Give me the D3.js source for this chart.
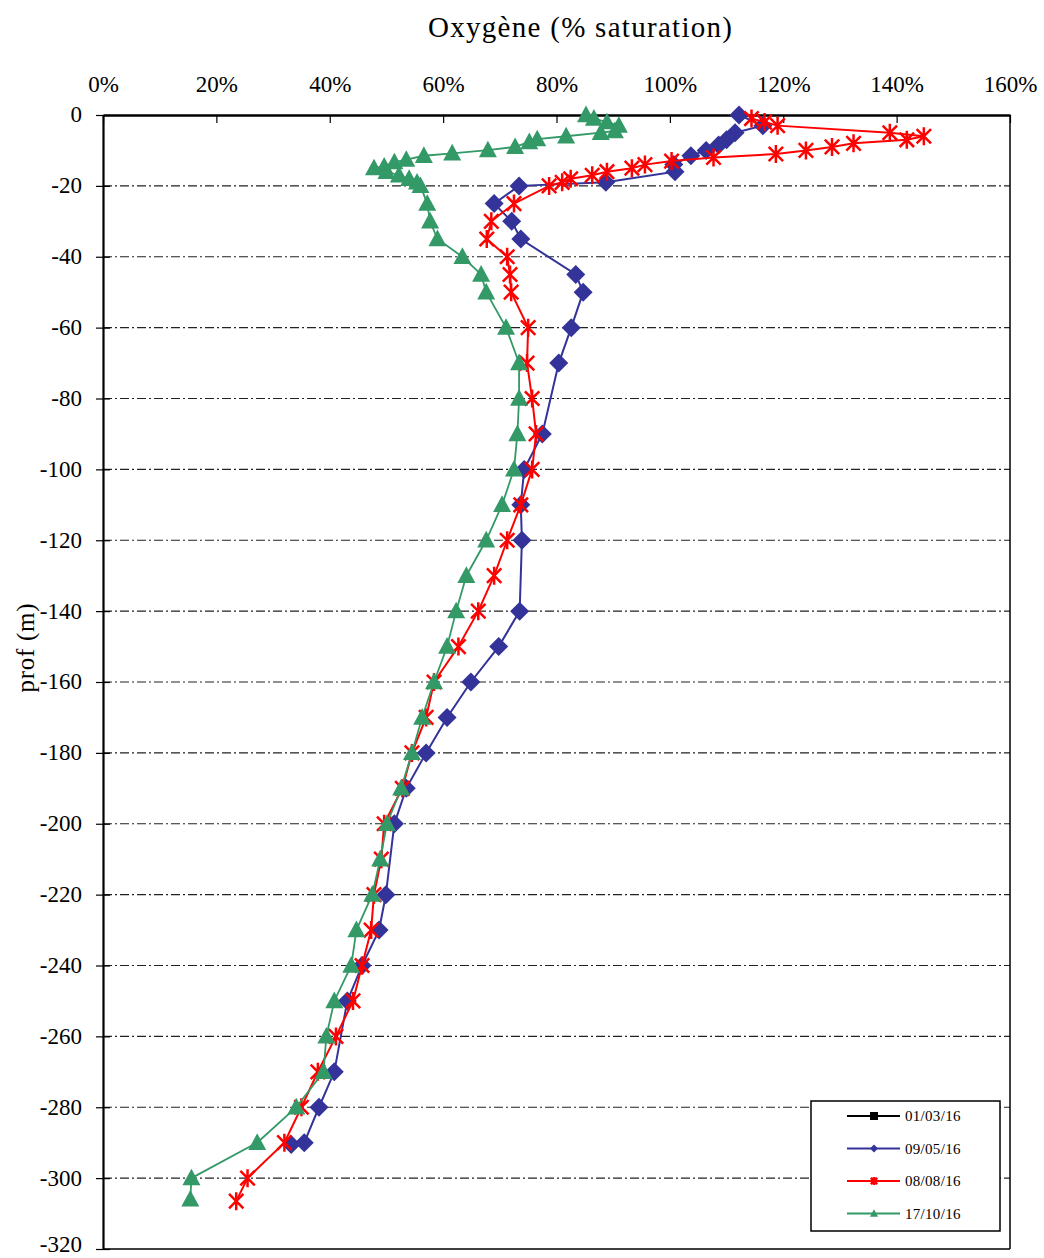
<!DOCTYPE html>
<html>
<head>
<meta charset="utf-8">
<script src="https://cdn.jsdelivr.net/npm/d3@7"></script>
<style>
  body { margin: 0; background: #fff; }
  svg text { font-family: "Liberation Serif", "Times New Roman", serif; fill: #000; }
</style>
</head>
<body>
<div id="chart"></div>
<script>
// series: [saturation %, depth m]
const serie0103 = [];
const serie0905 = [
  [112.2, 0], [116.4, -3], [111.5, -5], [110.0, -7], [108.6, -8.5], [106.4, -10],
  [103.7, -11.5], [100.7, -14], [100.9, -16], [88.7, -19], [73.4, -20], [69.0, -25],
  [72.1, -30], [73.7, -35], [83.4, -45], [84.7, -50], [82.6, -60], [80.4, -70],
  [77.5, -90], [74.3, -100], [73.7, -110], [73.9, -120], [73.5, -140], [69.8, -150],
  [64.9, -160], [60.7, -170], [57.0, -180], [53.5, -190], [51.4, -200], [49.9, -220],
  [48.7, -230], [45.7, -240], [43.1, -250], [40.8, -270], [38.1, -280], [35.5, -290],
  [33.2, -290.5]
];
const serie0808 = [
  [114.4, -1], [116.7, -2], [119.0, -3], [138.8, -5], [144.8, -6], [141.8, -7],
  [132.4, -8], [128.6, -9], [124.0, -10], [118.7, -11], [107.7, -12], [100.3, -13],
  [95.6, -14], [93.3, -15], [88.9, -16], [86.3, -17], [82.5, -18], [81.0, -19],
  [78.7, -20], [72.5, -25], [68.5, -30], [67.7, -35], [71.3, -40], [71.8, -45],
  [72.0, -50], [75.0, -60], [74.8, -70], [75.7, -80], [76.4, -90], [75.7, -100],
  [73.7, -110], [71.3, -120], [69.0, -130], [66.2, -140], [62.7, -150], [58.4, -160],
  [57.0, -170], [54.5, -180], [52.8, -190], [49.6, -200], [49.1, -210], [47.8, -220],
  [47.3, -230], [45.7, -240], [44.1, -250], [41.1, -260], [37.9, -270], [35.0, -280],
  [32.0, -290], [25.5, -300], [23.5, -306.5]
];
const serie1710 = [
  [85.2, 0], [86.6, -1], [88.9, -2], [91.0, -3], [90.3, -4.5], [87.8, -5],
  [81.7, -6], [76.6, -6.8], [75.2, -7.6], [72.7, -9], [67.9, -9.9], [61.6, -10.8],
  [56.6, -11.5], [53.5, -12.6], [51.4, -13.3], [49.6, -14.5], [47.8, -15],
  [50.0, -16], [52.2, -17], [54.0, -18], [55.4, -19], [56.0, -20], [57.2, -25],
  [57.7, -30], [59.0, -35], [63.4, -40], [66.7, -45], [67.6, -50], [71.1, -60],
  [73.4, -70], [73.4, -80], [73.1, -90], [72.5, -100], [70.4, -110], [67.6, -120],
  [64.1, -130], [62.3, -140], [60.7, -150], [58.4, -160], [56.3, -170], [54.5, -180],
  [52.6, -190], [50.1, -200], [48.9, -210], [47.5, -220], [44.7, -230], [43.8, -240],
  [40.8, -250], [39.4, -260], [38.9, -270], [34.1, -280], [27.2, -290], [15.6, -300],
  [15.4, -306]
];
const seriesNames = ["01/03/16", "09/05/16", "08/08/16", "17/10/16"];
const xTicks = [0, 0.2, 0.4, 0.6, 0.8, 1.0, 1.2, 1.4, 1.6];
const yTicks = d3.range(0, -321, -20);

const series = [
  { name: seriesNames[0], data: serie0103, color: "#000000", marker: "square", width: 2.5 },
  { name: seriesNames[1], data: serie0905, color: "#333399", marker: "diamond", width: 2 },
  { name: seriesNames[2], data: serie0808, color: "#ff0000", marker: "star", width: 2 },
  { name: seriesNames[3], data: serie1710, color: "#339966", marker: "triangle", width: 1.8 }
];

const WIDTH = 1044, HEIGHT = 1258;
const margin = { top: 115, left: 103, right: 34, bottom: 9 };

const svg = d3.select("#chart").append("svg")
  .attr("width", WIDTH).attr("height", HEIGHT);

const xScale = d3.scaleLinear().domain([0, 1.6]).range([margin.left, WIDTH - margin.right]);
const yScale = d3.scaleLinear().domain([0, -320]).range([margin.top, HEIGHT - margin.bottom]);

// dash-dot grid
svg.append("g")
  .selectAll("line")
  .data(yTicks.slice(1, -1))
  .join("line")
  .attr("x1", xScale(0)).attr("x2", xScale(1.6))
  .attr("y1", d => yScale(d)).attr("y2", d => yScale(d))
  .attr("stroke", "#222").attr("stroke-width", 1.2)
  .attr("stroke-dasharray", "9,3,2,3");

// frame right / bottom
svg.append("line")
  .attr("x1", xScale(1.6)).attr("x2", xScale(1.6))
  .attr("y1", yScale(0)).attr("y2", yScale(-320))
  .attr("stroke", "#000").attr("stroke-width", 1.5);
svg.append("line")
  .attr("x1", xScale(0)).attr("x2", xScale(1.6))
  .attr("y1", yScale(-320)).attr("y2", yScale(-320))
  .attr("stroke", "#000").attr("stroke-width", 1.5);

// top axis
const axeX = svg.append("g")
  .attr("transform", `translate(0, ${yScale(0)})`)
  .call(d3.axisTop(xScale).tickValues(xTicks).tickFormat(d3.format(".0%"))
    .tickSizeInner(-8).tickSizeOuter(0).tickPadding(23));
axeX.select(".domain").attr("stroke-width", 2.5);
axeX.selectAll(".tick line").attr("stroke-width", 1.2);
axeX.selectAll("text").attr("font-size", "23px").attr("font-family", "Liberation Serif");

// left axis, ticks crossing
const axeY = svg.append("g")
  .attr("transform", `translate(${xScale(0)}, 0)`)
  .call(d3.axisLeft(yScale).tickValues(yTicks).tickFormat(d3.format("d"))
    .tickSizeInner(7).tickSizeOuter(0).tickPadding(14));
axeY.select(".domain").attr("stroke-width", 2.2);
axeY.selectAll(".tick line").attr("x2", 7).attr("x1", -7).attr("stroke-width", 1.2);
axeY.selectAll("text").attr("font-size", "23px").attr("font-family", "Liberation Serif")
  .attr("dy", d => d === -320 ? "0.1em" : "0.3em")
  .text(d => d === 0 ? "0" : "-" + Math.abs(d));

// titles
svg.append("text")
  .attr("x", 580).attr("y", 37)
  .attr("text-anchor", "middle")
  .attr("font-size", "29px")
  .attr("textLength", 304)
  .text("Oxygène (% saturation)");

svg.append("text")
  .attr("transform", `translate(34, 648) rotate(-90)`)
  .attr("text-anchor", "middle")
  .attr("font-size", "25px")
  .attr("textLength", 89)
  .text("prof (m)");

// markers
function drawMarker(g, type, color, s) {
  if (type === "square") {
    g.append("rect").attr("x", -s / 2).attr("y", -s / 2).attr("width", s).attr("height", s).attr("fill", color);
  } else if (type === "diamond") {
    const h = s * 0.5;
    g.append("path").attr("d", `M0,${-h}L${h},0L0,${h}L${-h},0Z`).attr("fill", color);
  } else if (type === "triangle") {
    const h = s * 0.5;
    g.append("path").attr("d", `M0,${-h * 1.05}L${h},${h * 0.8}L${-h},${h * 0.8}Z`).attr("fill", color);
  } else if (type === "star") {
    const h = s * 0.5;
    const d = h * 0.8;
    g.append("path")
      .attr("d", `M0,${-h}L0,${h}M${-d},${-d}L${d},${d}M${-d},${d}L${d},${-d}`)
      .attr("stroke", color).attr("stroke-width", 2.5).attr("fill", "none");
  }
}

const markerSize = { square: 14, diamond: 19, star: 18, triangle: 18 };

const line = d3.line()
  .x(d => xScale(d[0] / 100))
  .y(d => yScale(d[1]));

const plot = svg.append("g");
series.forEach(s => {
  if (!s.data.length) return;
  plot.append("path")
    .datum(s.data)
    .attr("fill", "none")
    .attr("stroke", s.color)
    .attr("stroke-width", s.width)
    .attr("d", line);
  plot.append("g")
    .selectAll("g")
    .data(s.data)
    .join("g")
    .attr("transform", d => `translate(${xScale(d[0] / 100)}, ${yScale(d[1])})`)
    .each(function () { drawMarker(d3.select(this), s.marker, s.color, markerSize[s.marker]); });
});

// legend
const legend = svg.append("g").attr("transform", "translate(811, 1101)");
legend.append("rect")
  .attr("width", 189).attr("height", 130)
  .attr("fill", "#fff").attr("stroke", "#000").attr("stroke-width", 1.5);

const item = legend.selectAll(".item")
  .data(series)
  .join("g")
  .attr("class", "item")
  .attr("transform", (d, i) => `translate(0, ${15 + i * 32.5})`);
item.append("line")
  .attr("x1", 36).attr("x2", 89)
  .attr("stroke", d => d.color).attr("stroke-width", 2.2);
item.each(function (d) {
  const g = d3.select(this).append("g").attr("transform", "translate(63, 0)");
  drawMarker(g, d.marker, d.color, 8);
});
item.append("text")
  .attr("x", 94).attr("y", 5)
  .attr("font-size", "15px")
  .attr("letter-spacing", "0.3px")
  .text(d => d.name);
</script>
</body>
</html>
